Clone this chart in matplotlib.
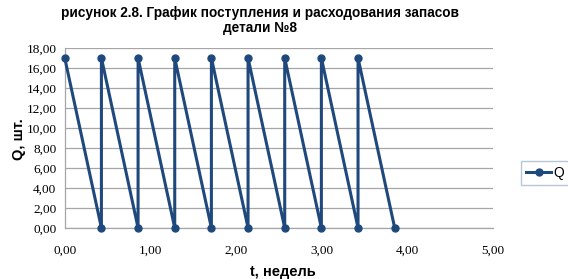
import numpy as np
import matplotlib.pyplot as plt
from matplotlib.ticker import FuncFormatter

# sawtooth: arrival (17 pcs) then consumption down to 0
t = [0.0, 0.428, 0.428, 0.856, 0.856, 1.284, 1.284, 1.712, 1.712,
     2.140, 2.140, 2.568, 2.568, 2.996, 2.996, 3.424, 3.424, 3.852]
q = [17, 0, 17, 0, 17, 0, 17, 0, 17,
     0, 17, 0, 17, 0, 17, 0, 17, 0]

fig = plt.figure(figsize=(5.68, 2.79), dpi=100)
ax = fig.add_axes([0.114, 0.183, 0.754, 0.645])

col = '#1F497D'
ax.plot(t, q, color=col, lw=2.2, marker='o', ms=5, label='Q', clip_on=False, zorder=3)

ax.set_xlim(0, 5)
ax.set_ylim(0, 18)
ax.set_xticks(np.arange(0, 5.01, 1))
ax.set_yticks(np.arange(0, 18.01, 2))
fmt = FuncFormatter(lambda v, p: ('%.2f' % v).replace('.', ','))
ax.xaxis.set_major_formatter(fmt)
ax.yaxis.set_major_formatter(fmt)
for lab in ax.get_xticklabels() + ax.get_yticklabels():
    lab.set_family('Liberation Serif')
    lab.set_fontsize(9.5)
ax.tick_params(axis='both', length=0, pad=6)
ax.tick_params(axis='x', pad=12)

ax.grid(True, axis='y', color='#A6A6A6', lw=0.9)
ax.set_axisbelow(True)
for s in ['top', 'right']:
    ax.spines[s].set_visible(False)
for s in ['left', 'bottom']:
    ax.spines[s].set_color('#A6A6A6')
    ax.spines[s].set_linewidth(0.9)

fig.text(0.458, 0.98, 'рисунок 2.8. График поступления и расходования запасов\nдетали №8',
         ha='center', va='top', fontsize=9.8, fontweight='bold',
         family='Liberation Sans', linespacing=1.15)
fig.text(0.498, 0.0, 't, недель', ha='center', va='bottom', fontsize=10.5,
         fontweight='bold', family='Liberation Sans')
fig.text(0.034, 0.5, 'Q, шт.', rotation=90, ha='center', va='center', fontsize=10.5,
         fontweight='bold', family='Liberation Sans')

leg = fig.legend(loc='center left', bbox_to_anchor=(0.918, 0.38),
                 frameon=True, fancybox=False, borderpad=0.35, handlelength=1.8,
                 handletextpad=0.15, borderaxespad=0,
                 prop={'family': 'Liberation Sans', 'size': 10})
leg.get_frame().set_edgecolor('#A6B8D0')
leg.get_frame().set_linewidth(1.0)

plt.savefig('out.png', dpi=100)
